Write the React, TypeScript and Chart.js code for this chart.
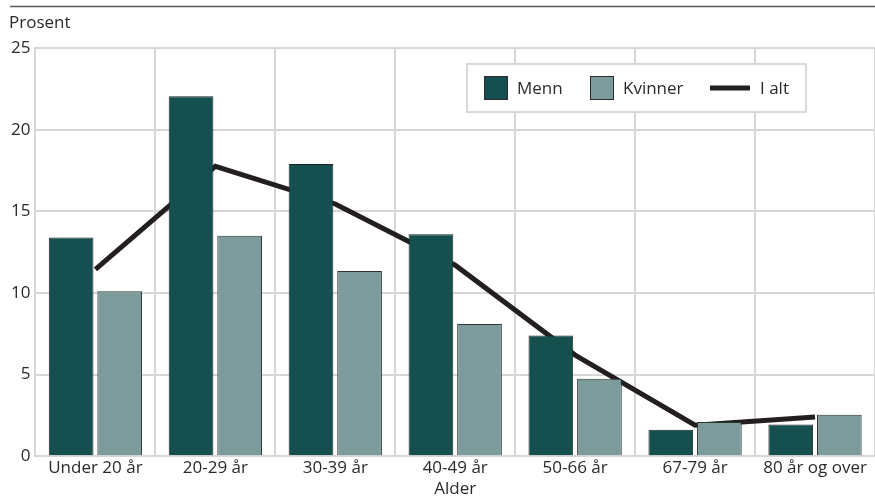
import React, { useEffect, useRef } from "react";
import { Chart, registerables } from "chart.js";

Chart.register(...registerables);

const categories = ["Under 20 år", "20-29 år", "30-39 år", "40-49 år", "50-66 år", "67-79 år", "80 år og over"];
const menn = [13.4, 22.05, 17.9, 13.6, 7.4, 1.63, 1.95];
const kvinner = [10.1, 13.5, 11.35, 8.1, 4.75, 2.1, 2.55];
const iAlt = [11.45, 17.75, 15.45, 11.7, 6.2, 1.9, 2.4];
const yTicks = [0, 5, 10, 15, 20, 25];

const FONT = "'Open Sans', 'DejaVu Sans', sans-serif";
const C_MENN = "#16504e";
const C_KVINNER = "#7b9c9a";
const C_LINE = "#231f20";
const C_GRID = "#d6d6d6";
const C_TEXT = "#2a2a2a";
const FS = 17;

const decorPlugin = {
  id: "decor",
  afterDraw(chart: any) {
    const ctx = chart.ctx;
    ctx.save();
    // top rule
    ctx.strokeStyle = "#5a5a5a";
    ctx.lineWidth = 1.5;
    ctx.beginPath();
    ctx.moveTo(10, 6.5);
    ctx.lineTo(chart.width, 6.5);
    ctx.stroke();
    // axis title
    ctx.fillStyle = C_TEXT;
    ctx.font = `${FS}px ${FONT}`;
    ctx.textBaseline = "alphabetic";
    ctx.textAlign = "left";
    ctx.fillText("Prosent", 9, 28);
    // legend
    const bx = 467, by = 64, bw = 339, bh = 48;
    ctx.fillStyle = "#ffffff";
    ctx.fillRect(bx, by, bw, bh);
    ctx.strokeStyle = "#d9d9d9";
    ctx.lineWidth = 2;
    ctx.strokeRect(bx, by, bw, bh);
    const cy = by + bh / 2;
    ctx.lineWidth = 1;
    ctx.strokeStyle = "#2a2a2a";
    ctx.fillStyle = C_MENN;
    ctx.fillRect(484, cy - 12, 24, 24);
    ctx.strokeRect(484.5, cy - 11.5, 23, 23);
    ctx.fillStyle = C_KVINNER;
    ctx.fillRect(590, cy - 12, 24, 24);
    ctx.strokeRect(590.5, cy - 11.5, 23, 23);
    ctx.strokeStyle = C_LINE;
    ctx.lineWidth = 5;
    ctx.beginPath();
    ctx.moveTo(710, cy);
    ctx.lineTo(750, cy);
    ctx.stroke();
    ctx.fillStyle = C_TEXT;
    ctx.font = `${FS}px ${FONT}`;
    ctx.textBaseline = "middle";
    ctx.fillText("Menn", 517, cy + 1);
    ctx.fillText("Kvinner", 623, cy + 1);
    ctx.fillText("I alt", 760, cy + 1);
    ctx.restore();
  },
};

export default function App() {
  const ref = useRef<HTMLCanvasElement>(null);
  useEffect(() => {
    document.body.style.margin = "0";
    const chart = new Chart(ref.current!, {
      type: "bar",
      data: {
        labels: categories,
        datasets: [
          {
            type: "bar",
            label: "Menn",
            data: menn,
            backgroundColor: C_MENN,
            borderColor: "#1a2726",
            borderWidth: 1,
            order: 1,
            categoryPercentage: 0.81,
            barPercentage: 0.92,
          },
          {
            type: "bar",
            label: "Kvinner",
            data: kvinner,
            backgroundColor: C_KVINNER,
            borderColor: "#2a3433",
            borderWidth: 1,
            order: 1,
            categoryPercentage: 0.81,
            barPercentage: 0.92,
          },
          {
            type: "line",
            label: "I alt",
            data: iAlt,
            borderColor: C_LINE,
            borderWidth: 5,
            pointRadius: 0,
            tension: 0,
            order: 3,
          } as any,
        ],
      },
      options: {
        responsive: false,
        animation: false,
        layout: { padding: { left: 6, top: 48, right: 0, bottom: 0 } },
        plugins: { legend: { display: false }, tooltip: { enabled: false } },
        scales: {
          x: {
            offset: true,
            grid: { color: C_GRID, lineWidth: 2, drawTicks: false, offset: true },
            border: { color: C_GRID, width: 2 },
            ticks: { color: C_TEXT, font: { family: FONT, size: FS, lineHeight: 1.1 }, padding: 3, maxRotation: 0, autoSkip: false },
            title: { display: true, text: "Alder", color: C_TEXT, font: { family: FONT, size: FS, lineHeight: 1.0 }, padding: { top: 0, bottom: 0 } },
          },
          y: {
            min: 0,
            max: 25,
            afterBuildTicks: (axis: any) => {
              axis.ticks = yTicks.map((v) => ({ value: v }));
            },
            grid: { color: C_GRID, lineWidth: 2, drawTicks: false },
            border: { color: C_GRID, width: 2 },
            ticks: { color: C_TEXT, font: { family: FONT, size: FS }, padding: 5 },
          },
        },
      },
      plugins: [decorPlugin],
    });
    return () => chart.destroy();
  }, []);
  return <canvas ref={ref} width={875} height={498} style={{ display: "block" }} />;
}
